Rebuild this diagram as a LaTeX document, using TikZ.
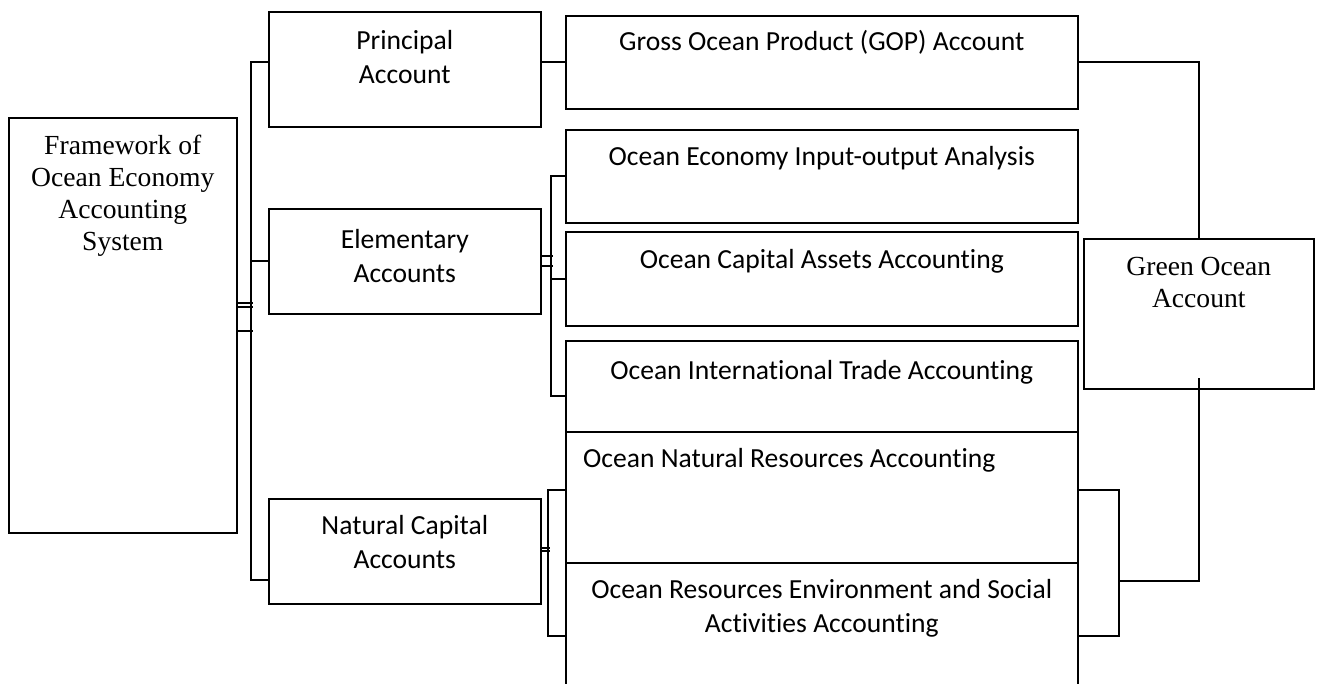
\documentclass[tikz,border=0pt]{standalone}
\usepackage{fontspec}
\setmainfont{Liberation Serif}
\newfontfamily\calibri[Ligatures=NoCommon]{Carlito}
\usetikzlibrary{positioning}

\begin{document}
\begin{tikzpicture}[x=1pt, y=-1pt,
  acct/.style={draw, line width=1.6pt, anchor=north west, inner sep=0pt},
  sanstxt/.style={inner sep=0pt, align=center, font=\calibri\fontsize{27.6}{34}\selectfont},
  serftxt/.style={inner sep=0pt, align=center, font=\fontsize{27.6}{32}\selectfont},
  link/.style={line width=2pt}]

\useasboundingbox (0,0) rectangle (1320,684);
\clip (0,0) rectangle (1320,684);

% root
\node[acct, minimum width=228, minimum height=415] (frame) at (8,117) {};
\node[serftxt, below=18pt of frame.north] (frame-t) {Framework of\\Ocean Economy\\Accounting\\System};

% account groups
\node[acct, minimum width=272, minimum height=115] (prin) at (268,11) {};
\node[sanstxt, below=19pt of prin.north] (prin-t) {Principal\\Account};
\node[acct, minimum width=272, minimum height=105] (elem) at (268,208) {};
\node[sanstxt, below=21pt of elem.north] (elem-t) {Elementary\\Accounts};
\node[acct, minimum width=272, minimum height=105] (nat) at (268,498) {};
\node[sanstxt, below=17pt of nat.north] (nat-t) {Natural Capital\\Accounts};

% single accounts
\node[acct, minimum width=512, minimum height=93] (gop) at (565,15) {};
\node[sanstxt, below=15pt of gop.north] (gop-t) {Gross Ocean Product (GOP) Account};
\node[acct, minimum width=512, minimum height=93] (io) at (565,129) {};
\node[sanstxt, below=17pt of io.north] (io-t) {Ocean Economy Input-output Analysis};
\node[acct, minimum width=512, minimum height=94] (cap) at (565,231) {};
\node[sanstxt, below=18pt of cap.north] (cap-t) {Ocean Capital Assets Accounting};
\node[acct, minimum width=512, minimum height=91] (trade) at (565,340) {};
\node[sanstxt, below=20pt of trade.north] (trade-t) {Ocean International Trade Accounting};
\node[acct, minimum width=512, minimum height=131] (natres) at (565,431) {};
\node[sanstxt, below right=17pt and 18pt of natres.north west] (natres-t) {Ocean Natural Resources Accounting};
\node[acct, minimum width=512, minimum height=130] (ores) at (565,562) {};
\node[sanstxt, below=17pt of ores.north] (ores-t) {Ocean Resources Environment and Social\\Activities Accounting};

\node[acct, minimum width=230, minimum height=150] (green) at (1083,238) {};
\node[serftxt, below=19pt of green.north] (green-t) {Green Ocean\\Account};

% root bracket
\draw[link] (prin.west |- gop.west) -- ++(-17,0) |- ([yshift=25pt]nat.south west);
\draw[link] (elem.west) -- ++(-17,0);
\foreach \dy in {22,18.5,-5.5}
  \draw[link] ([yshift=\dy pt]frame.east) -- ++(15,0);

% principal
\draw[link] (prin.east |- gop.west) -- (gop.west);

% elementary bracket
\draw[link] (io.west) -- ++(-14,0) |- ([yshift=-10pt]trade.west);
\draw[link] (cap.west) -- ++(-14,0);
\foreach \dy in {5,-5}
  \draw[link] ([yshift=\dy pt]elem.east) -- ++(11,0);

% natural capital bracket
\draw[link] ([yshift=7pt]natres.west) -- ++(-17,0) |- ([yshift=-8pt]ores.west);
\foreach \dy in {3.5,0.5}
  \draw[link] ([yshift=\dy pt]nat.east) -- ++(8,0);

% green account
\draw[link] (gop.east) -| (green.north);
\draw[link] ([yshift=7pt]natres.east) -- ++(40,0) coordinate (rj) |- ([yshift=-8pt]ores.east);
\draw[link] (rj |- ores.north) ++(0,19) -| ([yshift=12pt]green.south);

\end{tikzpicture}
\end{document}
